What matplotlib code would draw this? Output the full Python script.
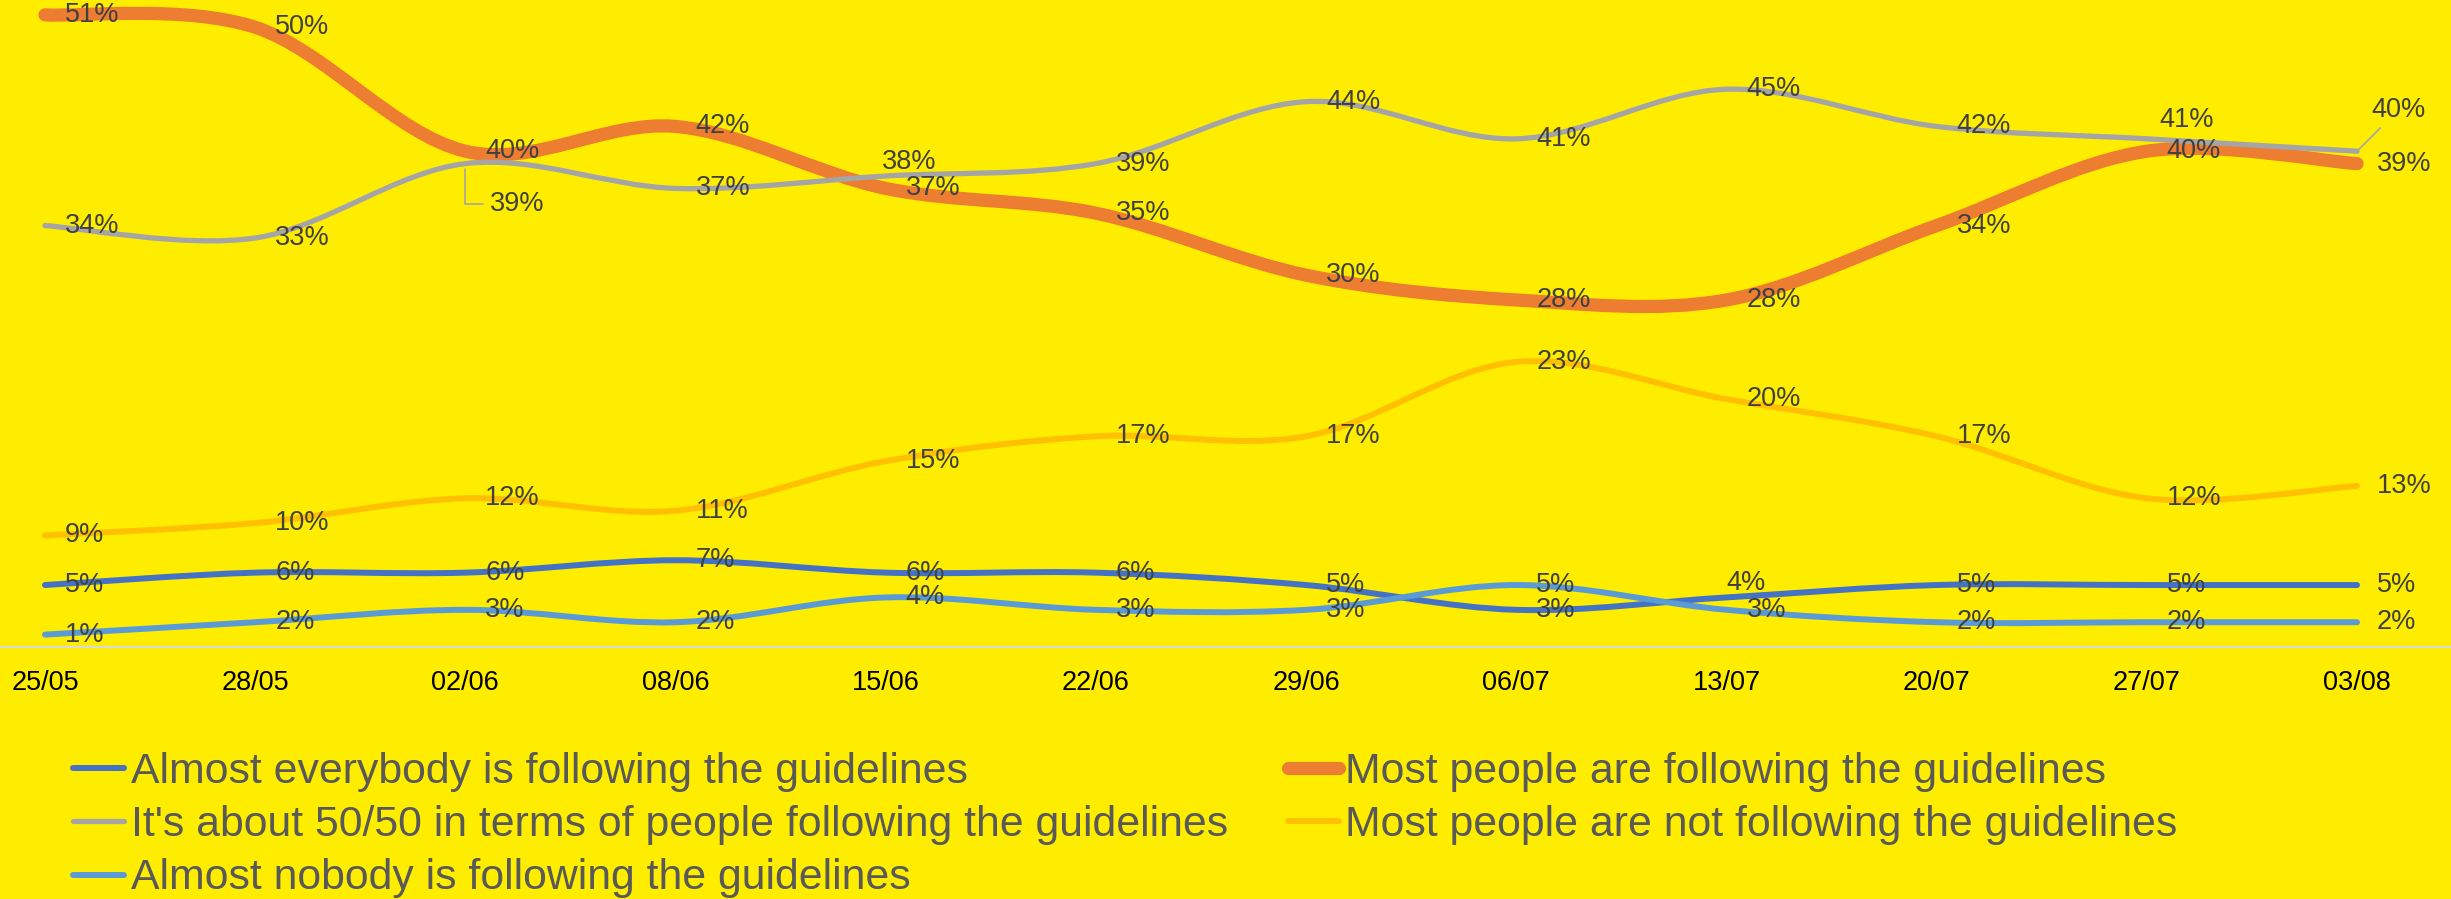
"""
Guideline compliance perception - weekly tracker
Smoothed line chart with data labels, Excel-like styling.
Output: out.png
"""

import numpy as np
import matplotlib
matplotlib.use("Agg")
import matplotlib.pyplot as plt
from matplotlib.path import Path
from matplotlib.patches import PathPatch
from matplotlib.lines import Line2D

plt.rcParams["font.family"] = ["Liberation Sans", "DejaVu Sans"]

# --- Data (percent of respondents) ---
dates = ["25/05", "28/05", "02/06", "08/06", "15/06", "22/06",
         "29/06", "06/07", "13/07", "20/07", "27/07", "03/08"]

almost_everybody = [5, 6, 6, 7, 6, 6, 5, 3, 4, 5, 5, 5]
most_following = [51, 50, 40, 42, 37, 35, 30, 28, 28, 34, 40, 39]
fifty_fifty = [34, 33, 39, 37, 38, 39, 44, 41, 45, 42, 41, 40]
most_not_following = [9, 10, 12, 11, 15, 17, 17, 23, 20, 17, 12, 13]
almost_nobody = [1, 2, 3, 2, 4, 3, 3, 5, 3, 2, 2, 2]

labels = [
    "Almost everybody is following the guidelines",
    "Most people are following the guidelines",
    "It's about 50/50 in terms of people following the guidelines",
    "Most people are not following the guidelines",
    "Almost nobody is following the guidelines",
]

# series in Excel drawing order: (key, values, colour, linewidth)
SERIES = [
    ("everybody", almost_everybody, "#4472C4", 4.3),
    ("most", most_following, "#ED7D31", 9.5),
    ("fifty", fifty_fifty, "#A5A5A5", 3.8),
    ("not", most_not_following, "#FFC000", 4.3),
    ("nobody", almost_nobody, "#5B9BD5", 4.3),
]

BG = "#FFED00"
LABEL_COLOR = "#404040"
LABEL_SIZE = 19.5

# data labels that were dragged away from the default "right" spot (pixels)
LABEL_OFFSETS = {
    ("fifty", 4): (-4, 14),
    ("fifty", 10): (13, 19),
    ("everybody", 8): (0, 14),
}


def smooth_path(xs, ys):
    """Bezier path through the points, like Excel's 'smoothed line'."""
    pts = np.column_stack([xs, ys]).astype(float)
    padded = np.vstack([pts[0], pts, pts[-1]])
    verts = [pts[0]]
    codes = [Path.MOVETO]
    for i in range(len(pts) - 1):
        p0, p1, p2, p3 = padded[i], padded[i + 1], padded[i + 2], padded[i + 3]
        verts += [p1 + (p2 - p0) / 6.0, p2 - (p3 - p1) / 6.0, p2]
        codes += [Path.CURVE4] * 3
    return Path(verts, codes)


fig = plt.figure(figsize=(24.51, 8.99), dpi=100, facecolor=BG)
ax = fig.add_axes([0, 0.2803, 1, 0.7197], facecolor=BG)

x = np.arange(len(dates))
handles = {}
for key, vals, color, lw in SERIES:
    patch = PathPatch(smooth_path(x, vals), facecolor="none", edgecolor=color,
                      linewidth=lw, capstyle="round", joinstyle="round",
                      clip_on=False)
    ax.add_patch(patch)
    handles[key] = Line2D([], [], color=color, linewidth=lw,
                          solid_capstyle="round")

# data labels
for key, vals, color, lw in SERIES:
    for i, v in enumerate(vals):
        txt = f"{v}%"
        if key == "fifty" and i == 2:
            ax.annotate(txt, (i, v), xytext=(25, -40), textcoords="offset pixels",
                        ha="left", va="center", fontsize=LABEL_SIZE, color=LABEL_COLOR,
                        arrowprops=dict(arrowstyle="-", color="#A5A5A5", lw=1.2,
                                        shrinkA=3, shrinkB=4,
                                        connectionstyle="angle,angleA=0,angleB=90,rad=0"))
            continue
        if key == "fifty" and i == len(vals) - 1:
            ax.annotate(txt, (i, v), xytext=(41, 41), textcoords="offset pixels",
                        ha="center", va="center", fontsize=LABEL_SIZE, color=LABEL_COLOR,
                        arrowprops=dict(arrowstyle="-", color="#A5A5A5", lw=1.2,
                                        shrinkA=2, shrinkB=2))
            continue
        dx, dy = LABEL_OFFSETS.get((key, i), (20, 0))
        ax.annotate(txt, (i, v), xytext=(dx, dy), textcoords="offset pixels",
                    ha="left", va="center", fontsize=LABEL_SIZE, color=LABEL_COLOR)

ax.set_xlim(-0.214, 11.447)
ax.set_ylim(0, 52.2)

ax.set_xticks(x)
ax.set_xticklabels(dates, fontsize=19.5, color="black")
ax.tick_params(axis="x", length=0, pad=16.5)
ax.set_yticks([])
for side in ["top", "left", "right"]:
    ax.spines[side].set_visible(False)
ax.spines["bottom"].set_color("#D9D9D9")
ax.spines["bottom"].set_linewidth(1.6)

# legend: Excel fills row-wise, matplotlib column-wise -> reorder
order = ["everybody", "fifty", "nobody", "most", "not"]
names = {"everybody": labels[0], "most": labels[1], "fifty": labels[2],
         "not": labels[3], "nobody": labels[4]}
fig.legend([handles[k] for k in order], [names[k] for k in order],
           ncol=2, loc="upper left", bbox_to_anchor=(73 / 2451, 1 - 752 / 899),
           frameon=False, fontsize=30.75, labelcolor="#595959",
           handlelength=1.2, handletextpad=0.15, columnspacing=1.4,
           labelspacing=0.31, borderpad=0, borderaxespad=0)

fig.savefig("out.png", dpi=100, facecolor=BG)
plt.close(fig)
